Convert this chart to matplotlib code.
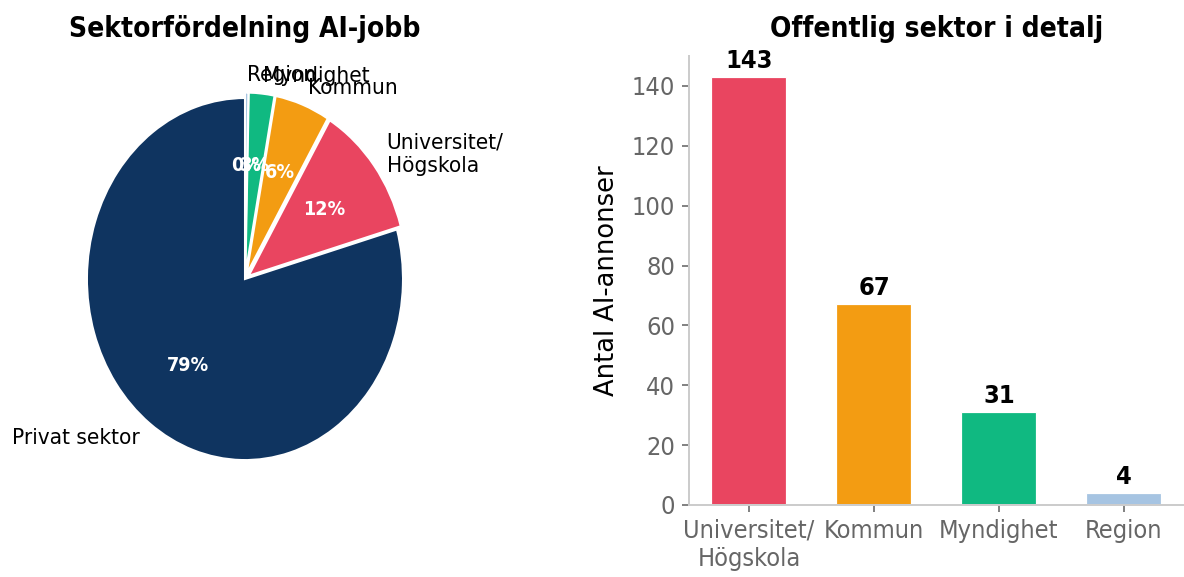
import matplotlib
matplotlib.use("Agg")
import matplotlib.pyplot as plt

plt.rcParams['font.family'] = ['DejaVu Sans']
plt.rcParams['font.stretch'] = 'condensed'

# data
pie_labels = ['Privat sektor', 'Universitet/\nHögskola', 'Kommun', 'Myndighet', 'Region']
pie_values = [945, 143, 67, 31, 4]
pie_colors = ['#0f3460', '#e94560', '#f39c12', '#10b981', '#a6c4e2']
pie_explode = [0, 0.03, 0.03, 0.03, 0.03]

bar_labels = ['Universitet/\nHögskola', 'Kommun', 'Myndighet', 'Region']
bar_values = [143, 67, 31, 4]
bar_colors = ['#e94560', '#f39c12', '#10b981', '#a6c4e2']

fig = plt.figure(figsize=(1184 / 144, 577 / 144), dpi=144)

# pie
ax1 = fig.add_axes([0.0401, 0.1243, 0.3336, 0.7842])
wedges, texts, autotexts = ax1.pie(
    pie_values, labels=pie_labels, colors=pie_colors, explode=pie_explode,
    autopct='%1.0f%%', startangle=90, pctdistance=0.6,
    wedgeprops=dict(edgecolor='white', linewidth=1.0),
    textprops=dict(fontsize=11.2))
for t in autotexts:
    t.set_color('white')
    t.set_fontweight('bold')
    t.set_fontsize(9.8)
ax1.set_aspect('auto')
ax1.set_xlim(-1.25, 1.25)
ax1.set_ylim(-1.25, 1.25)
ax1.set_title('Sektorfördelning AI-jobb', fontsize=14, fontweight='bold', pad=8)

# bars
ax2 = fig.add_axes([0.5819, 0.1248, 0.4181, 0.7789])
x = range(len(bar_values))
bars = ax2.bar(x, bar_values, width=0.6, color=bar_colors, edgecolor='white', linewidth=0.6)
for b, v in zip(bars, bar_values):
    ax2.annotate(str(v), (b.get_x() + b.get_width() / 2, v), xytext=(0, 2),
                 textcoords='offset points', ha='center', va='bottom',
                 fontsize=12.6, fontweight='bold')
ax2.set_xticks(list(x))
ax2.set_xticklabels(bar_labels)
ax2.set_ylabel('Antal AI-annonser', fontsize=12.9, fontstretch='normal', labelpad=6)
ax2.set_title('Offentlig sektor i detalj', fontsize=14, fontweight='bold', pad=9.4)
for s in ['top', 'right']:
    ax2.spines[s].set_visible(False)
for s in ['left', 'bottom']:
    ax2.spines[s].set_color('#cccccc')
    ax2.spines[s].set_linewidth(1.0)
ax2.tick_params(colors='#666666', labelsize=12.6, length=3.5, width=0.8)

fig.savefig('out.png', dpi=144)
